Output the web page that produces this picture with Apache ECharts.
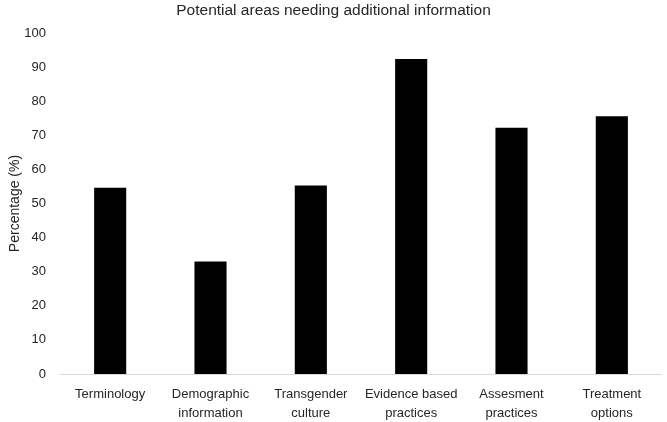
<!DOCTYPE html>
<html>
<head>
<meta charset="utf-8">
<script src="https://cdn.jsdelivr.net/npm/echarts@6/dist/echarts.min.js"></script>
<style>
  html, body { margin: 0; padding: 0; background: #fff; }
  #chart { width: 667px; height: 422px; }
</style>
</head>
<body>
<div id="chart"></div>
<script>
const categories = [
  "Terminology",
  "Demographic\ninformation",
  "Transgender\nculture",
  "Evidence based\npractices",
  "Assesment\npractices",
  "Treatment\noptions",
]
const percentages = [54.6, 33.0, 55.3, 92.4, 72.2, 75.6]
const yTicks = { min: 0, max: 100, interval: 10 }

const FONT = "'Liberation Sans', Arial, sans-serif"
const TEXT_COLOR = "#262626"

const chart = echarts.init(document.getElementById("chart"))
chart.setOption({
  animation: false,
  title: {
    text: "Potential areas needing additional information",
    left: "center",
    top: -2,
    textStyle: { fontFamily: FONT, fontSize: 15.5, fontWeight: "normal", color: TEXT_COLOR },
  },
  grid: { top: 33, left: 60, right: 5, bottom: 48, outerBoundsMode: "none" },
  xAxis: {
    type: "category",
    data: categories,
    axisLine: { lineStyle: { color: "#d9d9d9", width: 1 } },
    axisTick: { show: false },
    axisLabel: {
      interval: 0,
      margin: 11,
      fontFamily: FONT,
      fontSize: 13,
      lineHeight: 19,
      color: TEXT_COLOR,
    },
  },
  yAxis: {
    type: "value",
    min: yTicks.min,
    max: yTicks.max,
    interval: yTicks.interval,
    name: "Percentage (%)",
    nameLocation: "middle",
    nameGap: 38,
    nameMoveOverlap: false,
    nameTextStyle: { fontFamily: FONT, fontSize: 14, color: TEXT_COLOR },
    axisLine: { show: false },
    axisTick: { show: false },
    splitLine: { show: false },
    axisLabel: { margin: 14, fontFamily: FONT, fontSize: 13, color: TEXT_COLOR },
  },
  series: [{
    type: "bar",
    data: percentages,
    barWidth: "32%",
    itemStyle: { color: "#000" },
  }],
})
</script>
</body>
</html>
